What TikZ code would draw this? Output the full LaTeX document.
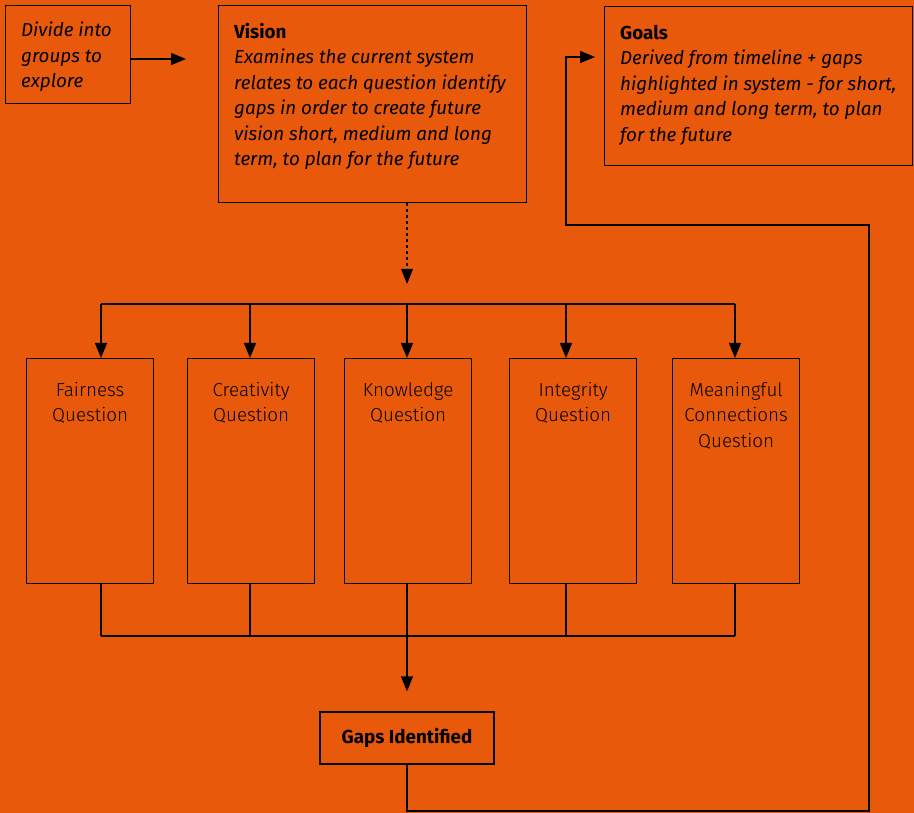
\documentclass[tikz,border=0pt]{standalone}
\usepackage{fontspec}
\setmainfont{Fira Sans}
\newfontfamily\lightfont{Fira Sans Light}
\usetikzlibrary{arrows.meta}

\definecolor{bgorange}{RGB}{232,89,12}

\tikzset{
  box/.style={draw, line width=1.3pt, rectangle, inner sep=0pt},
  note/.style={anchor=north west, align=left, inner sep=0pt, xshift=16pt,
    font=\fontsize{18.8}{25.5}\selectfont},
  qtext/.style={anchor=north, align=center, inner sep=0pt, yshift=-24pt,
    font=\lightfont\fontsize{18.8}{25.5}\selectfont},
  qbox/.style={box, minimum width=127, minimum height=225, anchor=north west},
  tip/.style={line width=1.3pt, -{Triangle[length=15pt,width=12pt]}},
  dotline/.style={line width=2.8pt, dash pattern=on 2.8pt off 3.2pt,
    -{Triangle[length=15pt,width=12pt,line width=0pt]}}
}

\begin{document}
\begin{tikzpicture}[x=1pt, y=-1pt]
    \fill[bgorange] (0,0) rectangle (914,813);
    \useasboundingbox (0,0) rectangle (914,813);

    \node[box, minimum width=125, minimum height=98, anchor=north west,
      label={[note, yshift=-17pt]north west:{\itshape Divide into\\\itshape groups to\\\itshape explore}}] (divide) at (5,5) {};
    \node[box, minimum width=308, minimum height=197, anchor=north west,
      label={[note, yshift=-18pt]north west:{\bfseries Vision\\\itshape Examines the current system\\\itshape relates to each question identify\\\itshape gaps in order to create future\\\itshape vision short, medium and long\\\itshape term, to plan for the future}}] (vision) at (218,5) {};
    \node[box, minimum width=308, minimum height=159, anchor=north west,
      label={[note, yshift=-19pt]north west:{\bfseries Goals\\\itshape Derived from timeline + gaps\\\itshape highlighted in system - for short,\\\itshape medium and long term, to plan\\\itshape for the future}}] (goals) at (604,6) {};

    \node[qbox, label={[qtext]north:{Fairness\\Question}}] (fairness) at (26,358) {};
    \node[qbox, label={[qtext]north:{Creativity\\Question}}] (creativity) at (187,358) {};
    \node[qbox, label={[qtext]north:{Knowledge\\Question}}] (knowledge) at (344,358) {};
    \node[qbox, label={[qtext]north:{Integrity\\Question}}] (integrity) at (509,358) {};
    \node[qbox, label={[qtext]north:{Meaningful\\Connections\\Question}}] (meaningful) at (672,358) {};

    \node[box, minimum width=174, minimum height=52, font=\bfseries\fontsize{18.8}{25.5}\selectfont] (gaps) at (407,738) {Gaps Identified};

    % splits above and below the questions
    \coordinate (top1) at (101,304);
    \coordinate (top2) at (250,304);
    \coordinate (top3) at (407,304);
    \coordinate (top4) at (566,304);
    \coordinate (top5) at (735,304);
    \coordinate (bot1) at (101,636);
    \coordinate (bot2) at (250,636);
    \coordinate (bot3) at (407,636);
    \coordinate (bot4) at (566,636);
    \coordinate (bot5) at (735,636);
    \coordinate (visionin) at (218,59);
    \coordinate (goalsin) at (604,57);

    \draw[tip, shorten >=32pt] (divide.east |- visionin) -- (visionin);
    \draw[dotline, shorten >=20pt] (top3 |- vision.south) -- (top3);

    \draw[line width=1.3pt] (top1) -- (top5);
    \draw (top1) edge[tip] (top1 |- fairness.north);
    \draw (top2) edge[tip] (top2 |- creativity.north);
    \draw (top3) edge[tip] (top3 |- knowledge.north);
    \draw (top4) edge[tip] (top4 |- integrity.north);
    \draw (top5) edge[tip] (top5 |- meaningful.north);

    \draw[line width=1.3pt] (bot1) -- (bot5);
    \draw[line width=1.3pt] (bot1 |- fairness.south) -- (bot1);
    \draw[line width=1.3pt] (bot2 |- creativity.south) -- (bot2);
    \draw[line width=1.3pt] (bot3 |- knowledge.south) -- (bot3);
    \draw[line width=1.3pt] (bot4 |- integrity.south) -- (bot4);
    \draw[line width=1.3pt] (bot5 |- meaningful.south) -- (bot5);
    \draw[tip, shorten >=20pt] (bot3) -- (gaps.north);

    \draw[tip, shorten >=9pt, line join=miter] (gaps.south) |- (869,811) |- (566,225) |- (goalsin);
  \end{tikzpicture}
\end{document}
